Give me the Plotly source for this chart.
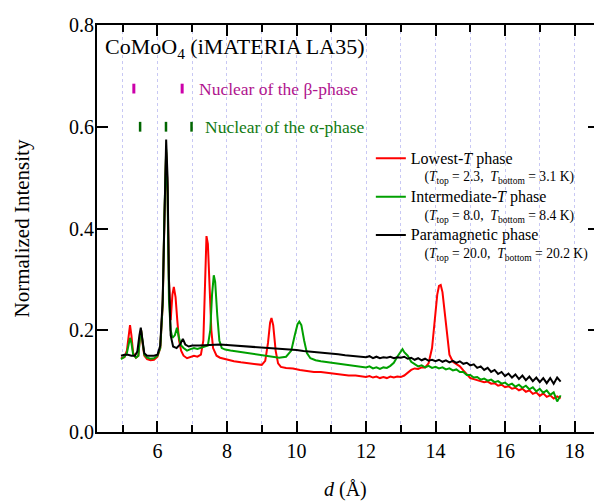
import plotly.graph_objects as go

# ---------------- data ----------------
d_low = [4.95, 5.05, 5.12, 5.17, 5.21, 5.25, 5.30, 5.38, 5.45, 5.50, 5.53, 5.57, 5.62, 5.70, 5.80, 5.90,
         6.00, 6.08, 6.15, 6.20, 6.25, 6.29, 6.33, 6.38, 6.43, 6.47, 6.52, 6.57, 6.62, 6.68, 6.75, 6.85,
         6.95, 7.05, 7.15, 7.25, 7.32, 7.37, 7.41, 7.45, 7.50, 7.55, 7.60, 7.70, 7.80, 7.90, 8.00, 8.20,
         8.40, 8.60, 8.80, 9.00, 9.10, 9.18, 9.24, 9.28, 9.33, 9.40, 9.47, 9.55, 9.70, 9.90, 10.10, 10.30,
         10.50, 10.70, 10.90, 11.10, 11.30, 11.50, 11.70, 11.90,
         12.0, 12.1, 12.2, 12.3, 12.4, 12.5, 12.6, 12.7, 12.8, 12.9, 13.0, 13.1, 13.2, 13.3, 13.4, 13.5,
         13.6, 13.7, 13.8, 13.9, 13.95, 14.0, 14.05, 14.1, 14.15, 14.2, 14.25, 14.3, 14.35, 14.4, 14.5,
         14.6, 14.7, 14.8, 14.9, 15.0, 15.1, 15.2, 15.3, 15.4, 15.5, 15.6, 15.7, 15.8, 15.9, 16.0, 16.1,
         16.2, 16.3, 16.4, 16.5, 16.6, 16.7, 16.8, 16.9, 17.0, 17.1, 17.2, 17.3, 17.4, 17.5, 17.6]
i_low = [0.145, 0.147, 0.160, 0.195, 0.210, 0.190, 0.155, 0.146, 0.150, 0.190, 0.200, 0.175, 0.150, 0.143, 0.141, 0.142,
         0.148, 0.165, 0.250, 0.420, 0.550, 0.480, 0.300, 0.220, 0.270, 0.285, 0.265, 0.220, 0.180, 0.160, 0.150, 0.145,
         0.148, 0.150, 0.148, 0.152, 0.180, 0.280, 0.385, 0.370, 0.280, 0.200, 0.165, 0.150, 0.146, 0.144, 0.142, 0.139,
         0.137, 0.135, 0.133, 0.132, 0.140, 0.175, 0.215, 0.224, 0.210, 0.160, 0.135, 0.128, 0.126, 0.125, 0.122, 0.120,
         0.118, 0.118, 0.116, 0.114, 0.113, 0.111, 0.111, 0.109,
         0.108, 0.110, 0.107, 0.109, 0.106, 0.108, 0.106, 0.109, 0.107, 0.109, 0.108, 0.111, 0.117, 0.122, 0.125, 0.124,
         0.127, 0.127, 0.135, 0.165, 0.200, 0.235, 0.270, 0.287, 0.289, 0.275, 0.245, 0.205, 0.175, 0.152, 0.138,
         0.134, 0.129, 0.121, 0.113, 0.106, 0.104, 0.102, 0.101, 0.098, 0.099, 0.095, 0.096, 0.091, 0.093, 0.088, 0.090,
         0.085, 0.087, 0.082, 0.085, 0.079, 0.082, 0.075, 0.078, 0.071, 0.076, 0.069, 0.072, 0.066, 0.070, 0.066]

d_mid = [4.95, 5.05, 5.12, 5.17, 5.21, 5.25, 5.30, 5.38, 5.45, 5.50, 5.53, 5.57, 5.62, 5.70, 5.80, 5.90,
         6.00, 6.08, 6.15, 6.20, 6.25, 6.29, 6.33, 6.38, 6.43, 6.50, 6.56, 6.62, 6.68, 6.75, 6.85, 6.95,
         7.05, 7.15, 7.25, 7.35, 7.45, 7.52, 7.57, 7.62, 7.66, 7.72, 7.78, 7.85, 7.95, 8.10, 8.30, 8.50,
         8.70, 8.90, 9.10, 9.30, 9.50, 9.70, 9.85, 9.95, 10.03, 10.08, 10.14, 10.22, 10.30, 10.40, 10.55,
         10.70, 10.90, 11.10, 11.30, 11.50, 11.70, 11.90,
         12.0, 12.1, 12.2, 12.3, 12.4, 12.5, 12.6, 12.7, 12.8, 12.9, 13.0, 13.05, 13.1, 13.2, 13.3, 13.4,
         13.5, 13.6, 13.7, 13.8, 13.9, 14.0, 14.1, 14.2, 14.3, 14.4, 14.5, 14.6, 14.7, 14.8, 14.9, 15.0,
         15.1, 15.2, 15.3, 15.4, 15.5, 15.6, 15.7, 15.8, 15.9, 16.0, 16.1, 16.2, 16.3, 16.4, 16.5, 16.6,
         16.7, 16.8, 16.9, 17.0, 17.1, 17.2, 17.3, 17.4, 17.5, 17.6]
i_mid = [0.143, 0.148, 0.155, 0.175, 0.185, 0.175, 0.152, 0.146, 0.150, 0.190, 0.200, 0.178, 0.152, 0.146, 0.144, 0.145,
         0.150, 0.165, 0.250, 0.430, 0.555, 0.470, 0.260, 0.200, 0.185, 0.190, 0.205, 0.185, 0.170, 0.165, 0.160, 0.163,
         0.165, 0.163, 0.165, 0.168, 0.170, 0.200, 0.270, 0.308, 0.295, 0.230, 0.180, 0.165, 0.162, 0.160, 0.158, 0.156,
         0.153, 0.151, 0.149, 0.147, 0.146, 0.148, 0.160, 0.190, 0.212, 0.217, 0.210, 0.180, 0.155, 0.145, 0.141,
         0.139, 0.137, 0.135, 0.133, 0.131, 0.130, 0.128,
         0.127, 0.129, 0.125, 0.127, 0.124, 0.127, 0.126, 0.130, 0.136, 0.148, 0.158, 0.163, 0.157, 0.150, 0.138, 0.133,
         0.129, 0.131, 0.127, 0.130, 0.126, 0.128, 0.125, 0.127, 0.123, 0.125, 0.121, 0.123, 0.118, 0.118, 0.112, 0.112,
         0.107, 0.108, 0.103, 0.105, 0.101, 0.103, 0.098, 0.100, 0.095, 0.097, 0.092, 0.095, 0.089, 0.093, 0.087, 0.091,
         0.084, 0.088, 0.080, 0.085, 0.077, 0.082, 0.073, 0.078, 0.060, 0.072]

d_para = [4.95, 5.05, 5.15, 5.25, 5.35, 5.42, 5.48, 5.52, 5.56, 5.62, 5.70, 5.80, 5.90, 6.00, 6.08, 6.15,
          6.20, 6.25, 6.29, 6.33, 6.38, 6.45, 6.55, 6.65, 6.73, 6.80, 6.90, 7.00, 7.20, 7.40, 7.60, 7.80,
          8.00, 8.20, 8.40, 8.60, 8.80, 9.00, 9.20, 9.40, 9.60, 9.80, 10.00, 10.20, 10.40, 10.60, 10.80,
          11.00, 11.20, 11.40, 11.60, 11.80,
          12.0, 12.1, 12.2, 12.3, 12.4, 12.5, 12.6, 12.7, 12.8, 12.9, 13.0, 13.1, 13.2, 13.3, 13.4, 13.5,
          13.6, 13.7, 13.8, 13.9, 14.0, 14.1, 14.2, 14.3, 14.4, 14.5, 14.6, 14.7, 14.8, 14.9, 15.0, 15.1,
          15.2, 15.3, 15.4, 15.5, 15.6, 15.7, 15.8, 15.9, 16.0, 16.1, 16.2, 16.3, 16.4, 16.5, 16.6, 16.7,
          16.8, 16.9, 17.0, 17.1, 17.2, 17.3, 17.4, 17.5, 17.6]
i_para = [0.150, 0.152, 0.152, 0.150, 0.150, 0.158, 0.190, 0.205, 0.185, 0.155, 0.150, 0.150, 0.150, 0.152, 0.170, 0.260,
          0.450, 0.575, 0.500, 0.300, 0.190, 0.168, 0.165, 0.172, 0.183, 0.172, 0.168, 0.170, 0.170, 0.171, 0.172, 0.172,
          0.171, 0.170, 0.170, 0.169, 0.168, 0.167, 0.166, 0.165, 0.163, 0.162, 0.161, 0.159, 0.158, 0.157, 0.156,
          0.155, 0.153, 0.151, 0.150, 0.148,
          0.147, 0.149, 0.145, 0.148, 0.145, 0.147, 0.146, 0.148, 0.145, 0.147, 0.146, 0.148, 0.144, 0.146, 0.142, 0.145,
          0.141, 0.144, 0.140, 0.142, 0.139, 0.142, 0.138, 0.141, 0.137, 0.140, 0.136, 0.139, 0.134, 0.136, 0.131, 0.133,
          0.126, 0.129, 0.122, 0.126, 0.118, 0.122, 0.114, 0.118, 0.110, 0.115, 0.107, 0.113, 0.104, 0.111, 0.102, 0.109,
          0.100, 0.107, 0.098, 0.106, 0.096, 0.106, 0.095, 0.107, 0.099]

# Bragg-position markers
beta_d = [5.32, 6.71]
beta_y = [0.675, 0.675]
alpha_d = [5.50, 6.245, 6.98]
alpha_y = [0.60, 0.60, 0.60]

NB = "\u00a0"
series_names = [
    "<span style='font-size:16px'>Lowest-<i>T</i> phase</span><br>" + NB * 4 +
    "(<i>T</i><sub>top</sub> = 2.3,  <i>T</i><sub>bottom</sub> = 3.1 K)",
    "<span style='font-size:16px'>Intermediate-<i>T</i> phase</span><br>" + NB * 4 +
    "(<i>T</i><sub>top</sub> = 8.0,  <i>T</i><sub>bottom</sub> = 8.4 K)",
    "<span style='font-size:16px'>Paramagnetic phase</span><br>" + NB * 4 +
    "(<i>T</i><sub>top</sub> = 20.0,  <i>T</i><sub>bottom</sub> = 20.2 K)",
]
series_colors = ["#ff0000", "#00a000", "#000000"]

FONT = "Liberation Serif, Times New Roman, serif"

fig = go.Figure()
for dx, iy, nm, col in zip([d_low, d_mid, d_para], [i_low, i_mid, i_para], series_names, series_colors):
    fig.add_trace(go.Scatter(x=dx, y=iy, mode="lines", name=nm,
                             line=dict(color=col, width=2)))

fig.add_trace(go.Scatter(x=beta_d, y=beta_y, mode="markers", showlegend=False,
                         marker=dict(symbol="line-ns", size=7, line=dict(color="#cc00aa", width=3))))
fig.add_trace(go.Scatter(x=alpha_d, y=alpha_y, mode="markers", showlegend=False,
                         marker=dict(symbol="line-ns", size=7, line=dict(color="#006600", width=2.5))))

# right-side ticks (frame edge lies just beyond the picture)
fig.add_trace(go.Scatter(x=[None], y=[None], yaxis="y2", showlegend=False))

fig.add_annotation(x=7.14, y=0.675, xref="x", yref="y", xanchor="left", yanchor="middle",
                   text="Nuclear of the β-phase", showarrow=False,
                   font=dict(family=FONT, size=17.5, color="#b0148e"))
fig.add_annotation(x=7.31, y=0.60, xref="x", yref="y", xanchor="left", yanchor="middle",
                   text="Nuclear of the α-phase", showarrow=False,
                   font=dict(family=FONT, size=17.5, color="#127a12"))
fig.add_annotation(x=0.012, y=0.943, xref="paper", yref="paper", xanchor="left", yanchor="middle",
                   text="CoMoO<sub>4</sub> (iMATERIA LA35)", showarrow=False,
                   font=dict(family=FONT, size=22, color="black"))
# axis titles
fig.add_annotation(x=0.5, y=-0.1425, xref="paper", yref="paper", xanchor="center", yanchor="middle",
                   text="<i>d</i> (Å)", showarrow=False, font=dict(family=FONT, size=20, color="black"))
fig.add_annotation(x=-0.151, y=0.5, xref="paper", yref="paper", xanchor="center", yanchor="middle",
                   text="Normalized Intensity", textangle=-90, showarrow=False,
                   font=dict(family=FONT, size=21, color="black"))

grid = dict(showgrid=True, gridcolor="#c8c8f4", griddash="dot", gridwidth=1)

fig.update_layout(
    width=594, height=504,
    margin=dict(l=97, r=0, t=25, b=72, autoexpand=False),
    paper_bgcolor="white", plot_bgcolor="white",
    font=dict(family=FONT, size=20, color="black"),
    showlegend=True,
    legend=dict(x=0.551, y=0.71, xanchor="left", yanchor="top", valign="top",
                bgcolor="rgba(0,0,0,0)", font=dict(family=FONT, size=13.6),
                tracegroupgap=0, itemwidth=30),
    xaxis=dict(range=[4.26, 18.56], tickmode="linear", tick0=6, dtick=2, automargin=False,
               ticks="inside", ticklen=11, tickwidth=2, tickcolor="black",
               showline=True, linewidth=2, linecolor="black", mirror="ticks",
               zeroline=False, **grid,
               minor=dict(dtick=1, tick0=5, ticks="inside", ticklen=7, tickwidth=1.5,
                          tickcolor="black", showgrid=True, gridcolor="#c8c8f4", griddash="dot"),
               tickfont=dict(family=FONT, size=20)),
    yaxis=dict(range=[0, 0.8], tickmode="linear", tick0=0, dtick=0.2, tickformat=".1f", automargin=False,
               ticks="inside", ticklen=11, tickwidth=2, tickcolor="black",
               showline=True, linewidth=2, linecolor="black", mirror=False,
               showgrid=False, zeroline=False, ticklabelstandoff=-3,
               tickfont=dict(family=FONT, size=20)),
    yaxis2=dict(range=[0, 0.8], overlaying="y", side="right", tickmode="linear", tick0=0, dtick=0.2,
                automargin=False, ticks="inside", ticklen=6, tickwidth=2, tickcolor="black",
                showticklabels=False, showline=False, showgrid=False, zeroline=False),
)

fig.write_html("out.html", post_script="document.body.style.margin='0px';",
               config={"displayModeBar": False})
